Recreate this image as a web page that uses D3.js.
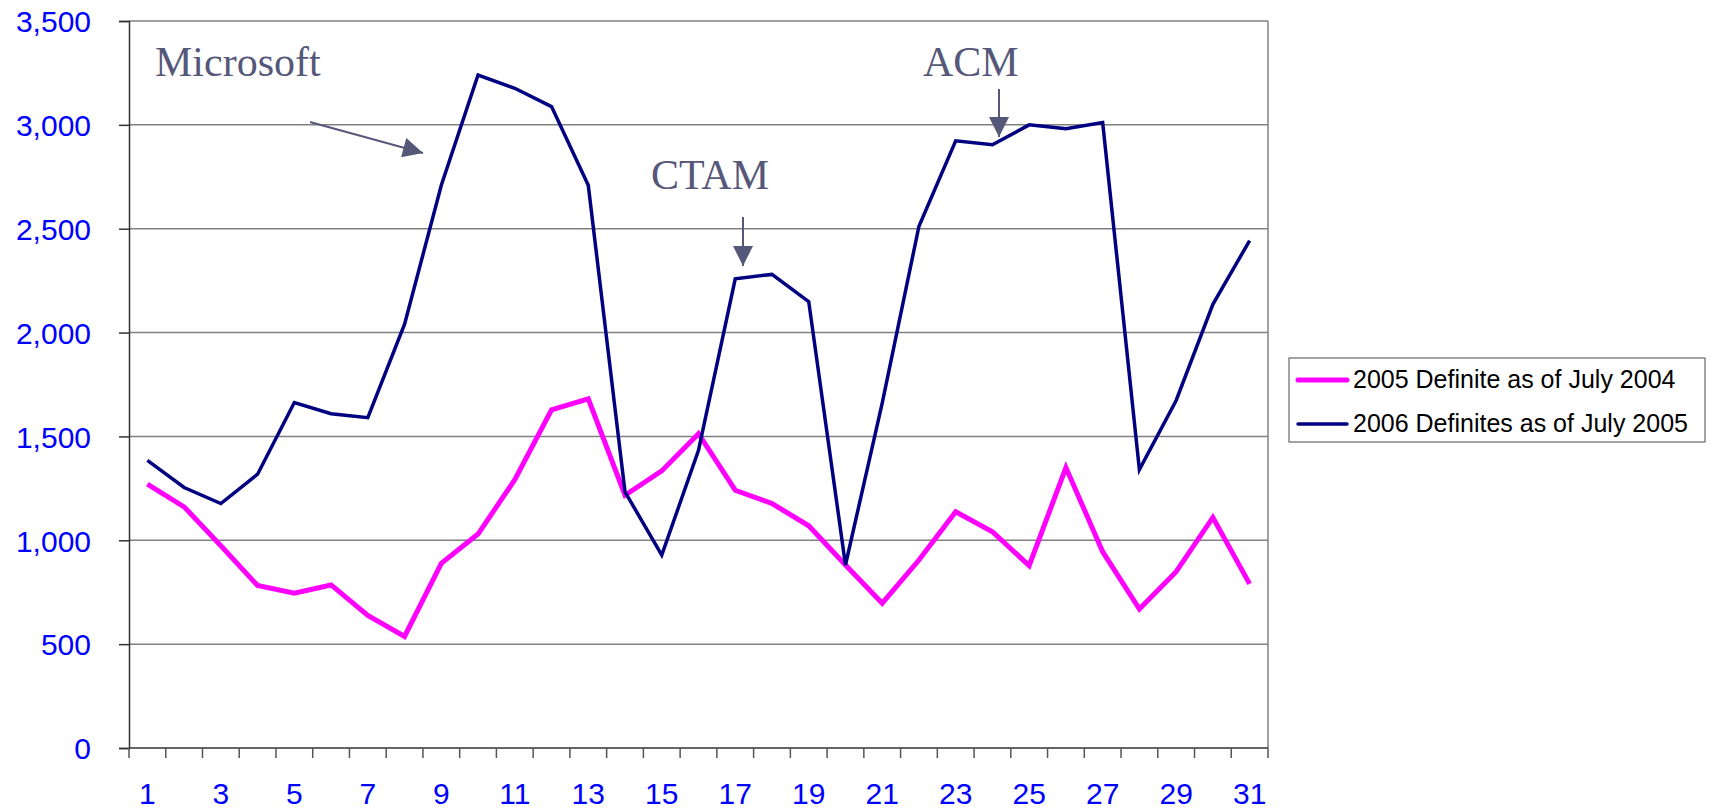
<!DOCTYPE html>
<html>
<head>
<meta charset="utf-8">
<script src="https://cdn.jsdelivr.net/npm/d3@7"></script>
<style>
  body { margin: 0; background: #fff; }
  svg { display: block; }
  .axis text { font-family: "Liberation Sans", Arial, sans-serif; font-size: 30px; fill: #0000ff; }
  .axis path, .axis line { stroke: #333; stroke-width: 1.5; }
  .note { font-family: "Liberation Serif", "Times New Roman", serif; font-size: 42px; fill: #56587a; }
  .legend text { font-family: "Liberation Sans", Arial, sans-serif; font-size: 25px; fill: #000; }
</style>
</head>
<body>
<svg id="chart"></svg>
<script>
(function () {
    "use strict";

    var days = d3.range(1, 32);
    var definite2005 = [1270, 1161, 974, 782, 745, 785, 638, 537, 889, 1030,
        1292, 1628, 1681, 1217, 1334, 1513, 1241, 1177, 1070, 881,
        697, 905, 1137, 1041, 878, 1350, 945, 669, 849, 1110, 790];
    var definite2006 = [1385, 1254, 1177, 1318, 1663, 1609, 1590, 2040, 2709, 3240,
        3176, 3088, 2709, 1233, 929, 1433, 2259, 2280, 2149, 881,
        1660, 2512, 2923, 2904, 3000, 2981, 3011, 1340, 1673, 2136, 2443];
    var yTicks = [0, 500, 1000, 1500, 2000, 2500, 3000, 3500];
    var seriesNames = ["2005 Definite as of July 2004", "2006 Definites as of July 2005"];
    var seriesColors = ["#ff00ff", "#000080"];
    var seriesWidths = [5, 3.5];

    var W = 1719, H = 812;
    var plot = { left: 129, right: 1268, top: 21, bottom: 748 };

    var svg = d3.select("#chart").attr("width", W).attr("height", H);

    var x = d3.scaleBand().domain(days).range([plot.left, plot.right]).padding(0);
    var y = d3.scaleLinear().domain([0, 3500]).range([plot.bottom, plot.top]);
    var cx = function (d) { return x(d) + x.bandwidth() / 2; };

    // gridlines
    svg.append("g").selectAll("line").data(yTicks.slice(1)).enter().append("line")
        .attr("x1", plot.left).attr("x2", plot.right)
        .attr("y1", function (d) { return y(d); }).attr("y2", function (d) { return y(d); })
        .attr("stroke", "#808080").attr("stroke-width", 1.5);
    svg.append("line")
        .attr("x1", plot.right).attr("x2", plot.right)
        .attr("y1", plot.top).attr("y2", plot.bottom)
        .attr("stroke", "#808080").attr("stroke-width", 1.5);

    // y axis
    var yaxis = d3.axisLeft(y).tickValues(yTicks).tickFormat(d3.format(",")).tickSize(10).tickPadding(28);
    svg.append("g").attr("class", "axis")
        .attr("transform", "translate(" + plot.left + ",0)")
        .call(yaxis)
        .call(function (g) { g.selectAll("text").attr("dy", "0.36em"); });

    // x axis: labels on odd days, ticks between categories
    var xaxis = d3.axisBottom(x).tickValues(days.filter(function (d) { return d % 2 === 1; }))
        .tickSize(0).tickPadding(35);
    svg.append("g").attr("class", "axis")
        .attr("transform", "translate(0," + plot.bottom + ")")
        .call(xaxis)
        .call(function (g) { g.select(".domain").attr("d", "M" + plot.left + ",0H" + plot.right); });
    svg.append("g").selectAll("line").data(d3.range(0, days.length + 1)).enter().append("line")
        .attr("x1", function (i) { return plot.left + i * x.step(); })
        .attr("x2", function (i) { return plot.left + i * x.step(); })
        .attr("y1", plot.bottom).attr("y2", plot.bottom + 10)
        .attr("stroke", "#555").attr("stroke-width", 1.5);

    // lines
    [definite2005, definite2006].forEach(function (vals, k) {
        var line = d3.line()
            .x(function (d, i) { return cx(days[i]); })
            .y(function (d) { return y(d); });
        svg.append("path").datum(vals)
            .attr("d", line)
            .attr("fill", "none")
            .attr("stroke", seriesColors[k])
            .attr("stroke-width", seriesWidths[k])
            .attr("stroke-linejoin", "miter");
    });

    // annotations
    svg.append("defs").append("marker")
        .attr("id", "head").attr("viewBox", "0 0 10 10")
        .attr("refX", 10).attr("refY", 5)
        .attr("markerWidth", 22).attr("markerHeight", 20)
        .attr("markerUnits", "userSpaceOnUse")
        .attr("orient", "auto")
        .append("path").attr("d", "M0,0L10,5L0,10Z").attr("fill", "#56587a");

    var notes = [
        { text: "Microsoft", tx: 155, ty: 76, x1: 310, y1: 122, x2: 423, y2: 153 },
        { text: "CTAM", tx: 651, ty: 189, x1: 743, y1: 217, x2: 743, y2: 266 },
        { text: "ACM", tx: 923, ty: 76, x1: 999, y1: 89, x2: 999, y2: 137 }
    ];
    notes.forEach(function (n) {
        svg.append("text").attr("class", "note").attr("x", n.tx).attr("y", n.ty).text(n.text);
        svg.append("line")
            .attr("x1", n.x1).attr("y1", n.y1).attr("x2", n.x2).attr("y2", n.y2)
            .attr("stroke", "#56587a").attr("stroke-width", 2)
            .attr("marker-end", "url(#head)");
    });

    // legend
    var legend = svg.append("g").attr("class", "legend");
    legend.append("rect")
        .attr("x", 1289).attr("y", 358).attr("width", 416).attr("height", 84)
        .attr("fill", "#fff").attr("stroke", "#666").attr("stroke-width", 1.2);
    seriesNames.forEach(function (name, k) {
        var ly = 380 + k * 44;
        legend.append("line")
            .attr("x1", 1298).attr("x2", 1347).attr("y1", ly).attr("y2", ly)
            .attr("stroke", seriesColors[k]).attr("stroke-width", seriesWidths[k])
            .attr("stroke-linecap", "round");
        legend.append("text").attr("x", 1353).attr("y", ly + 8).text(name);
    });
})();
</script>
</body>
</html>
